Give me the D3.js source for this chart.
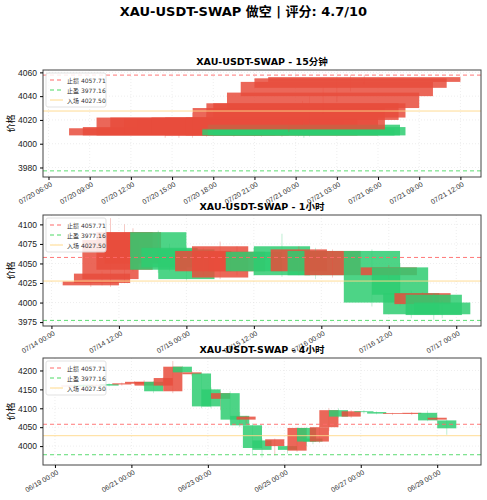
<!DOCTYPE html>
<html><head><meta charset="utf-8">
<script src="https://cdn.jsdelivr.net/npm/d3@7/dist/d3.min.js"></script>
<style>body{margin:0;background:#fff;font-family:"DejaVu Sans","Noto Sans CJK SC",sans-serif}</style>
</head><body>
<script>
const title = "XAU-USDT-SWAP 做空 | 评分: 4.7/10";
const stopLoss = 4057.71, takeProfit = 3977.16, entry = 4027.50;
const legendLabels = ["止损 4057.71", "止盈 3977.16", "入场 4027.50"];

// candles: [hours from base, open, close, high, low]
const base15 = "2025-07-20T00:00:00Z";
const candles15 = [
 [14.5,4013,4007,4016,4005],[15.5,4014,4007,4018,4005],[16.5,4022,4007,4026,4005],
 [17.5,4022,4008,4025,4006],[18.5,4021,4009,4024,4007],[19.5,4020,4008,4023,4006],
 [20.5,4022,4008,4024,4007],[21.5,4022,4007,4025,4006],[23,4022,4007,4023,4006],
 [24.2,4007,4013,4015,4006],[24.6,4007,4016,4018,4005],[25,4007,4014,4020,4006],
 [23.5,4030,4012,4032,4010],[24.5,4034,4020,4036,4016],[25,4034,4022,4040,4018],
 [26,4043,4030,4047,4025],[27,4052,4040,4056,4035],[28,4055,4047,4058,4044],[29,4056,4052,4058,4050]
];
const base1h = "2025-07-14T00:00:00Z";
const candles1h = [
 [7,4027,4022,4028,4020],[9,4037,4025,4040,4022],[10.5,4080,4030,4108,4020],
 [13,4090,4042,4100,4025],[14.5,4090,4050,4095,4040],[19,4042,4090,4092,4038],
 [21,4045,4070,4075,4040],[24,4030,4068,4072,4028],[27,4066,4040,4070,4035],
 [30,4072,4032,4078,4030],[33,4065,4040,4072,4035],[36,4040,4065,4070,4035],
 [41,4035,4072,4088,4033],[44,4068,4040,4072,4035],[47,4035,4066,4070,4030],
 [50,4066,4035,4068,4032],[57,4000,4066,4068,3995],[60,4045,4035,4048,4030],
 [62,4010,4045,4050,3995],[64,3985,4012,4015,3980],[66,4012,3998,4013,3995],
 [68,3984,4010,4012,3978],[69.5,3985,4000,4002,3980]
];
const base4h = "2025-06-19T00:00:00Z";
const candles4h = [
 [10,4160,4158,4163,4155],[18,4158,4162,4164,4156],[26,4162,4160,4165,4158],[34,4160,4164,4166,4158],
 [42,4166,4163,4168,4160],[50,4170,4165,4172,4162],[56,4170,4160,4174,4158],[62,4145,4170,4172,4140],
 [68,4180,4160,4182,4158],[74,4210,4145,4225,4140],[80,4195,4210,4212,4190],[86,4195,4190,4198,4185],
 [92,4105,4192,4195,4100],[98,4105,4150,4155,4100],[104,4140,4125,4145,4095],[110,4070,4140,4145,4065],
 [116,4055,4080,4090,4050],[120,4078,4070,4080,4060],[124,3995,4055,4060,3975],[130,3990,4015,4020,3970],
 [138,4018,4000,4020,3975],[146,3990,4000,4002,3980],[152,4048,3988,4050,3985],[158,4012,4048,4050,4000],
 [162,4012,4020,4025,4005],[166,4050,4012,4052,4008],[172,4095,4050,4100,4040],[178,4078,4095,4100,4075],
 [186,4092,4078,4095,4075],[194,4090,4092,4095,4086],[202,4086,4090,4092,4084],[212,4087,4085,4088,4082],
 [224,4088,4085,4090,4082],[234,4068,4088,4094,4066],[240,4075,4070,4078,4066],[246,4047,4068,4070,4030]
];

const panels = [
 {name:"XAU-USDT-SWAP - 15分钟", base:base15, data:candles15, w:14, top:70, bottom:177,
  xd:[5.6,37.5], tick:d3.utcHour.every(3), yd:[3972,4062], yt:[3980,4000,4020,4040,4060]},
 {name:"XAU-USDT-SWAP - 1小时", base:base1h, data:candles1h, w:10, top:215, bottom:326,
  xd:[-1.5,76.4], tick:d3.utcHour.every(12), yd:[3970,4112], yt:[3975,4000,4025,4050,4075,4100]},
 {name:"XAU-USDT-SWAP - 4小时", base:base4h, data:candles4h, w:12, top:358, bottom:465,
  xd:[-7.5,267.5], tick:d3.utcDay.every(2), yd:[3950,4233], yt:[4000,4050,4100,4150,4200]}
];

const W=487,H=500, L=43, R=481;
const svg=d3.select("body").append("svg").attr("width",W).attr("height",H);
svg.append("text").attr("x",W/2).attr("y",16).attr("text-anchor","middle")
 .attr("font-weight","bold").attr("font-size",13).text(title);
const fmt=d3.utcFormat("%m/%d %H:%M");
const red="#e74c3c", green="#2ecc71";

panels.forEach(p=>{
  const b=new Date(p.base).getTime();
  const T=h=>new Date(b+h*3600e3);
  const x=d3.scaleUtc().domain([T(p.xd[0]),T(p.xd[1])]).range([L,R]);
  const y=d3.scaleLinear().domain(p.yd).range([p.bottom,p.top]);
  const g=svg.append("g");
  g.append("text").attr("x",(L+R)/2).attr("y",p.top-5).attr("text-anchor","middle")
   .attr("font-weight","bold").attr("font-size",9.5).text(p.name);
  const ticks=x.ticks(p.tick).filter(t=>t>=x.domain()[0]&&t<=x.domain()[1]);
  g.selectAll(".gx").data(ticks).join("line").attr("x1",d=>x(d)).attr("x2",d=>x(d))
   .attr("y1",p.top).attr("y2",p.bottom).attr("stroke","#ddd").attr("stroke-width",0.5).attr("stroke-dasharray","1,2");
  g.selectAll(".gy").data(p.yt).join("line").attr("x1",L).attr("x2",R).attr("y1",d=>y(d)).attr("y2",d=>y(d))
   .attr("stroke","#ddd").attr("stroke-width",0.5).attr("stroke-dasharray","1,2");
  const clip="c"+p.top;
  svg.append("clipPath").attr("id",clip).append("rect").attr("x",L).attr("y",p.top).attr("width",R-L).attr("height",p.bottom-p.top);
  const cg=g.append("g").attr("clip-path",`url(#${clip})`);
  p.data.forEach(d=>{
    const [h,o,c,hi,lo]=d; const col=c>=o?green:red;
    cg.append("line").attr("x1",x(T(h))).attr("x2",x(T(h))).attr("y1",y(hi)).attr("y2",y(lo))
      .attr("stroke",col).attr("stroke-width",0.6).attr("opacity",0.5);
    cg.append("rect").attr("x",x(T(h-p.w/2))).attr("width",x(T(h+p.w/2))-x(T(h-p.w/2)))
      .attr("y",y(Math.max(o,c))).attr("height",Math.max(0.8,Math.abs(y(o)-y(c))))
      .attr("fill",col).attr("opacity",0.85);
  });
  const lines=[[stopLoss,"#ff6b6b","4,3"],[takeProfit,"#4cd964","4,3"],[entry,"#ffd98a",null]];
  lines.forEach(([v,col,da])=>{ if(v<p.yd[0]||v>p.yd[1])return;
    g.append("line").attr("x1",L).attr("x2",R).attr("y1",y(v)).attr("y2",y(v)).attr("stroke",col)
     .attr("stroke-width",1).attr("stroke-dasharray",da).attr("opacity",0.9);});
  g.append("rect").attr("x",L).attr("y",p.top).attr("width",R-L).attr("height",p.bottom-p.top)
   .attr("fill","none").attr("stroke","#444").attr("stroke-width",1);
  const yAx=g.append("g").attr("transform",`translate(${L},0)`).call(d3.axisLeft(y).tickValues(p.yt).tickFormat(d3.format("d")).tickSize(3).tickSizeOuter(0));
  yAx.select(".domain").remove(); yAx.selectAll("text").attr("font-size",8.5).attr("fill","#222");
  const xAx=g.append("g").attr("transform",`translate(0,${p.bottom})`).call(d3.axisBottom(x).tickValues(ticks).tickFormat(fmt).tickSize(3));
  xAx.select(".domain").remove();
  xAx.selectAll("text").attr("font-size",7).attr("fill","#333").attr("text-anchor","end")
   .attr("transform","rotate(-30)").attr("dx","-0.2em").attr("dy","0.5em");
  g.append("text").attr("transform",`translate(14,${(p.top+p.bottom)/2}) rotate(-90)`).attr("text-anchor","middle")
   .attr("font-size",9).text("价格");
  const lg=g.append("g").attr("transform",`translate(${L+3},${p.top+3})`);
  lg.append("rect").attr("width",60).attr("height",34).attr("fill","#fff").attr("opacity",0.85).attr("stroke","#ddd").attr("rx",2);
  lines.forEach(([v,col,da],i)=>{
    lg.append("line").attr("x1",4).attr("x2",17).attr("y1",7+i*10).attr("y2",7+i*10).attr("stroke",col).attr("stroke-dasharray",da);
    lg.append("text").attr("x",21).attr("y",9.5+i*10).attr("font-size",6).attr("fill","#333").text(legendLabels[i]);
  });
});
</script></body></html>
